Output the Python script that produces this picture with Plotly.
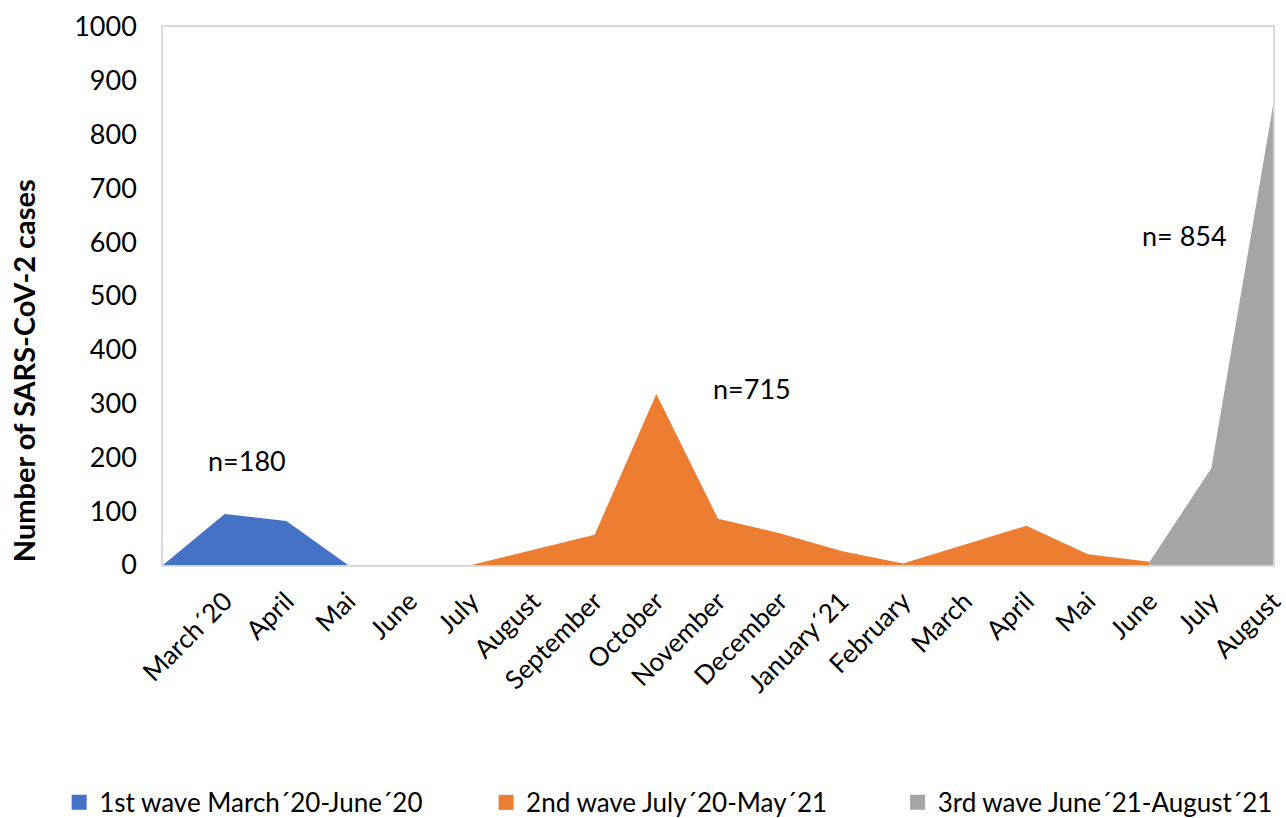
import plotly.graph_objects as go

months = ["", "March´20", "April", "Mai", "June", "July", "August", "September",
          "October", "November", "December", "January´21", "February", "March",
          "April", "Mai", "June", "July", "August"]

wave1 = [0, 95, 82, 0] + [None] * 15
wave2 = [None] * 5 + [0, 28, 56, 318, 86, 59, 26, 3, 38, 73, 20, 6] + [None] * 2
wave3 = [None] * 16 + [6, 180, 854]

names = ["1st wave March´20-June´20", "2nd wave July´20-May´21", "3rd wave June´21-August´21"]
colors = ["#4472C4", "#ED7D31", "#A5A5A5"]

labels = ["n=180", "n=715", "n= 854"]
label_x = [1.37, 9.55, 16.56]
label_y = [195, 329, 613]

FONT = "Lato"
x = list(range(len(months)))
legend_ids = ["legend", "legend2", "legend3"]
legend_pos = [0.046, 0.378, 0.698]

fig = go.Figure()
for vals, name, col, lid in zip([wave1, wave2, wave3], names, colors, legend_ids):
    fig.add_trace(go.Scatter(
        x=x, y=vals, name=name, mode="lines", fill="tozeroy",
        fillcolor=col, line=dict(color=col, width=0), connectgaps=False,
        showlegend=False,
    ))
    # legend entry: square swatch
    fig.add_trace(go.Scatter(
        x=[None], y=[None], name=name, mode="markers", legend=lid,
        marker=dict(symbol="square", size=15, color=col), showlegend=True,
    ))

for t, lx, ly in zip(labels, label_x, label_y):
    fig.add_annotation(x=lx, y=ly, text=t, showarrow=False,
                       font=dict(family=FONT, size=27, color="#000000"))

fig.add_annotation(xref="paper", yref="paper", x=-0.1262, y=0.362,
                   xanchor="center", yanchor="middle",
                   text="<b>Number of SARS-CoV-2 cases</b>", textangle=-90,
                   showarrow=False, font=dict(family=FONT, size=29, color="#000000"))

leg_common = dict(orientation="h", xref="container", yref="container",
                  y=0.019, yanchor="middle", xanchor="left",
                  font=dict(size=26, family=FONT), itemwidth=30,
                  bgcolor="rgba(0,0,0,0)")

fig.update_layout(
    width=1286, height=818,
    margin=dict(l=163, r=13, t=27, b=253),
    paper_bgcolor="white", plot_bgcolor="white",
    font=dict(family=FONT, color="#000000"),
    showlegend=True,
    legend=dict(x=legend_pos[0], **leg_common),
    legend2=dict(x=legend_pos[1], **leg_common),
    legend3=dict(x=legend_pos[2], **leg_common),
    xaxis=dict(range=[0, len(months) - 1], tickmode="array", tickvals=x[1:],
               ticktext=months[1:], tickangle=-45, showgrid=False, zeroline=False,
               showline=True, linecolor="#D9D9D9", linewidth=1.5, mirror=True,
               ticks="", tickfont=dict(size=26, family=FONT), automargin=False,
               ticklabelstandoff=9, ticklabeloverflow="allow"),
    yaxis=dict(range=[0, 1000], dtick=100, showgrid=False, zeroline=False,
               showline=True, linecolor="#D9D9D9", linewidth=1.5, mirror=True,
               ticks="", tickfont=dict(size=27, family=FONT), automargin=False,
               ticklabelstandoff=19),
)

fig.write_html("out.html", config={"displayModeBar": False},
               post_script="document.body.style.margin='0';document.body.style.overflow='hidden';")
